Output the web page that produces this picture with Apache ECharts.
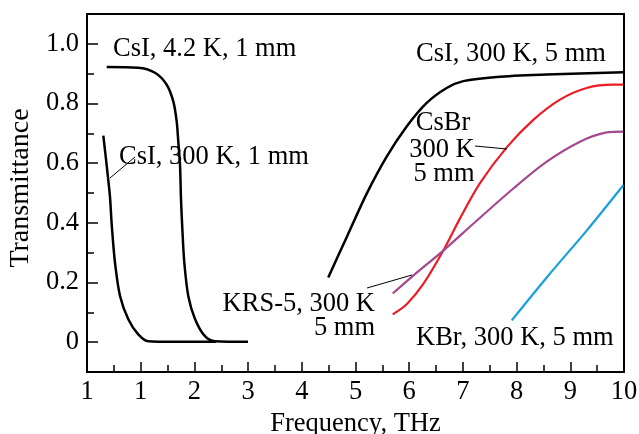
<!DOCTYPE html>
<html>
<head>
<meta charset="utf-8">
<script src="https://cdn.jsdelivr.net/npm/echarts@6/dist/echarts.min.js"></script>
<style>
html,body{margin:0;padding:0;background:#fff;}
#c{width:639px;height:434px;}
</style>
</head>
<body>
<div id="c"></div>
<script>
// Tick labels (as printed in the reference; the first label reads "1")
const xTickValues = [0,1,2,3,4,5,6,7,8,9,10];
const xTickLabels = ["1","1","2","3","4","5","6","7","8","9","10"];
const yTickValues = [0,0.2,0.4,0.6,0.8,1.0];
const yTickLabels = ["0","0.2","0.4","0.6","0.8","1.0"];

// CsI, 4.2 K, 1 mm
const csi42Freq = [0.367,0.955,1.266,1.484,1.607,1.670,1.700,1.732,1.750,1.775,1.812,1.886,2.011,2.197,2.384,2.998];
const csi42Trans = [0.922,0.920,0.903,0.863,0.807,0.740,0.672,0.594,0.482,0.381,0.267,0.155,0.078,0.020,0.003,0.001];

// CsI, 300 K, 1 mm
const csi300Freq = [0.304,0.340,0.380,0.428,0.460,0.521,0.615,0.769,0.955,1.142,1.6,2.4];
const csi300Trans = [0.692,0.635,0.570,0.487,0.395,0.267,0.155,0.077,0.026,0.003,0.001,0.001];

// CsI, 300 K, 5 mm
const csi5Freq = [4.493,4.836,5.209,5.581,5.953,6.326,6.698,7.007,7.629,8.561,9.987];
const csi5Trans = [0.217,0.352,0.498,0.622,0.723,0.802,0.852,0.875,0.889,0.897,0.905];

// CsBr, 300 K, 5 mm
const csbrFreq = [5.693,5.953,6.263,6.635,6.946,7.318,7.816,8.311,8.808,9.305,9.801,9.987];
const csbrTrans = [0.093,0.127,0.195,0.307,0.415,0.533,0.653,0.745,0.813,0.852,0.863,0.863];

// KRS-5, 300 K, 5 mm
const krsFreq = [5.693,6.076,6.635,7.194,7.939,8.561,9.181,9.678,9.987];
const krsTrans = [0.163,0.223,0.307,0.397,0.515,0.605,0.672,0.703,0.706];

// KBr, 300 K, 5 mm
const kbrFreq = [7.909,8.561,9.305,9.987];
const kbrTrans = [0.073,0.217,0.374,0.526];

const zip = (a,b) => a.map((v,i)=>[v,b[i]]);
const FONT = '"Liberation Serif","Times New Roman",serif';

const chart = echarts.init(document.getElementById('c'), null, {renderer:'canvas'});

function lineSeries(name, fx, fy, color, width){
  return {
    name, type:'line', data: zip(fx,fy), showSymbol:false, symbol:'none',
    smooth:0.3, xAxisIndex:0, yAxisIndex:0,
    lineStyle:{color, width}, z:3, silent:true, animation:false
  };
}

const textStyle = {fontFamily: FONT, fontSize: 26.5, fill:'#000'};
function txt(x,y,t,align){
  return {type:'text', x, y, z:10, style:Object.assign({}, textStyle, {text:t, align:align||'left', verticalAlign:'middle'})};
}
function seg(x1,y1,x2,y2){
  return {type:'line', z:10, shape:{x1,y1,x2,y2}, style:{stroke:'#000', lineWidth:1}};
}

chart.setOption({
  animation:false,
  backgroundColor:'#fff',
  grid:{left:87, right:15, top:14, bottom:62, outerBoundsMode:'none', containLabel:false,
        show:true, borderColor:'#000', borderWidth:2, backgroundColor:'transparent'},
  xAxis:[{
    type:'value', min:0, max:10, interval:1,
    axisLine:{show:true, onZero:false, lineStyle:{color:'#000', width:2}},
    axisTick:{show:true, inside:true, length:10, lineStyle:{color:'#000', width:1.5}},
    minorTick:{show:true, splitNumber:2, length:7, lineStyle:{color:'#000', width:1.5}},
    splitLine:{show:false},
    axisLabel:{show:true, margin:7, fontFamily:FONT, fontSize:26.5, color:'#000', hideOverlap:false,
      formatter:(v)=>{const i=xTickValues.indexOf(Math.round(v)); return i>=0?xTickLabels[i]:'';}},
    name:'Frequency, THz', nameLocation:'middle', nameGap:33,
    nameTextStyle:{fontFamily:FONT, fontSize:26.5, color:'#000'}
  }],
  yAxis:[{
    type:'value', min:-0.1, max:1.1, interval:0.1,
    axisLine:{show:true, onZero:false, lineStyle:{color:'#000', width:2}},
    axisTick:{show:true, inside:true, length:7, lineStyle:{color:'#000', width:1.5}},
    splitLine:{show:false},
    axisLabel:{show:true, margin:8, fontFamily:FONT, fontSize:26.5, color:'#000',
      customValues:yTickValues,
      formatter:(v)=>{let best=-1; yTickValues.forEach((t,i)=>{if(Math.abs(t-v)<1e-6) best=i;}); return best>=0?yTickLabels[best]:'';}},
    name:'Transmittance', nameLocation:'middle', nameGap:51,
    nameTextStyle:{fontFamily:FONT, fontSize:28, color:'#000', padding:[0,0,0,10]}
  },{
    type:'value', min:-0.1, max:1.1, position:'left', offset:0,
    axisLine:{show:false, onZero:false},
    axisTick:{show:true, inside:true, length:11, customValues:yTickValues, lineStyle:{color:'#000', width:1.5}},
    axisLabel:{show:false}, splitLine:{show:false}
  }],
  series:[
    lineSeries('CsI, 4.2 K, 1 mm', csi42Freq, csi42Trans, '#000', 2.5),
    lineSeries('CsI, 300 K, 1 mm', csi300Freq, csi300Trans, '#000', 2.5),
    lineSeries('CsI, 300 K, 5 mm', csi5Freq, csi5Trans, '#000', 2.5),
    lineSeries('CsBr, 300 K, 5 mm', csbrFreq, csbrTrans, '#ec1c24', 2.2),
    lineSeries('KRS-5, 300 K, 5 mm', krsFreq, krsTrans, '#a4488f', 2.2),
    lineSeries('KBr, 300 K, 5 mm', kbrFreq, kbrTrans, '#16a0de', 2.2)
  ],
  graphic:[
    txt(113,49,'CsI, 4.2 K, 1 mm'),
    txt(119,157,'CsI, 300 K, 1 mm'),
    seg(135,157,110,178),
    txt(416,54,'CsI, 300 K, 5 mm'),
    txt(443,123,'CsBr','center'),
    txt(442,150,'300 K','center'),
    txt(444,174,'5 mm','center'),
    seg(475,146,507,149),
    txt(375,304,'KRS-5, 300 K','right'),
    txt(375,328,'5 mm','right'),
    seg(367,288,412,275),
    txt(416,338,'KBr, 300 K, 5 mm')
  ]
});
</script>
</body>
</html>
